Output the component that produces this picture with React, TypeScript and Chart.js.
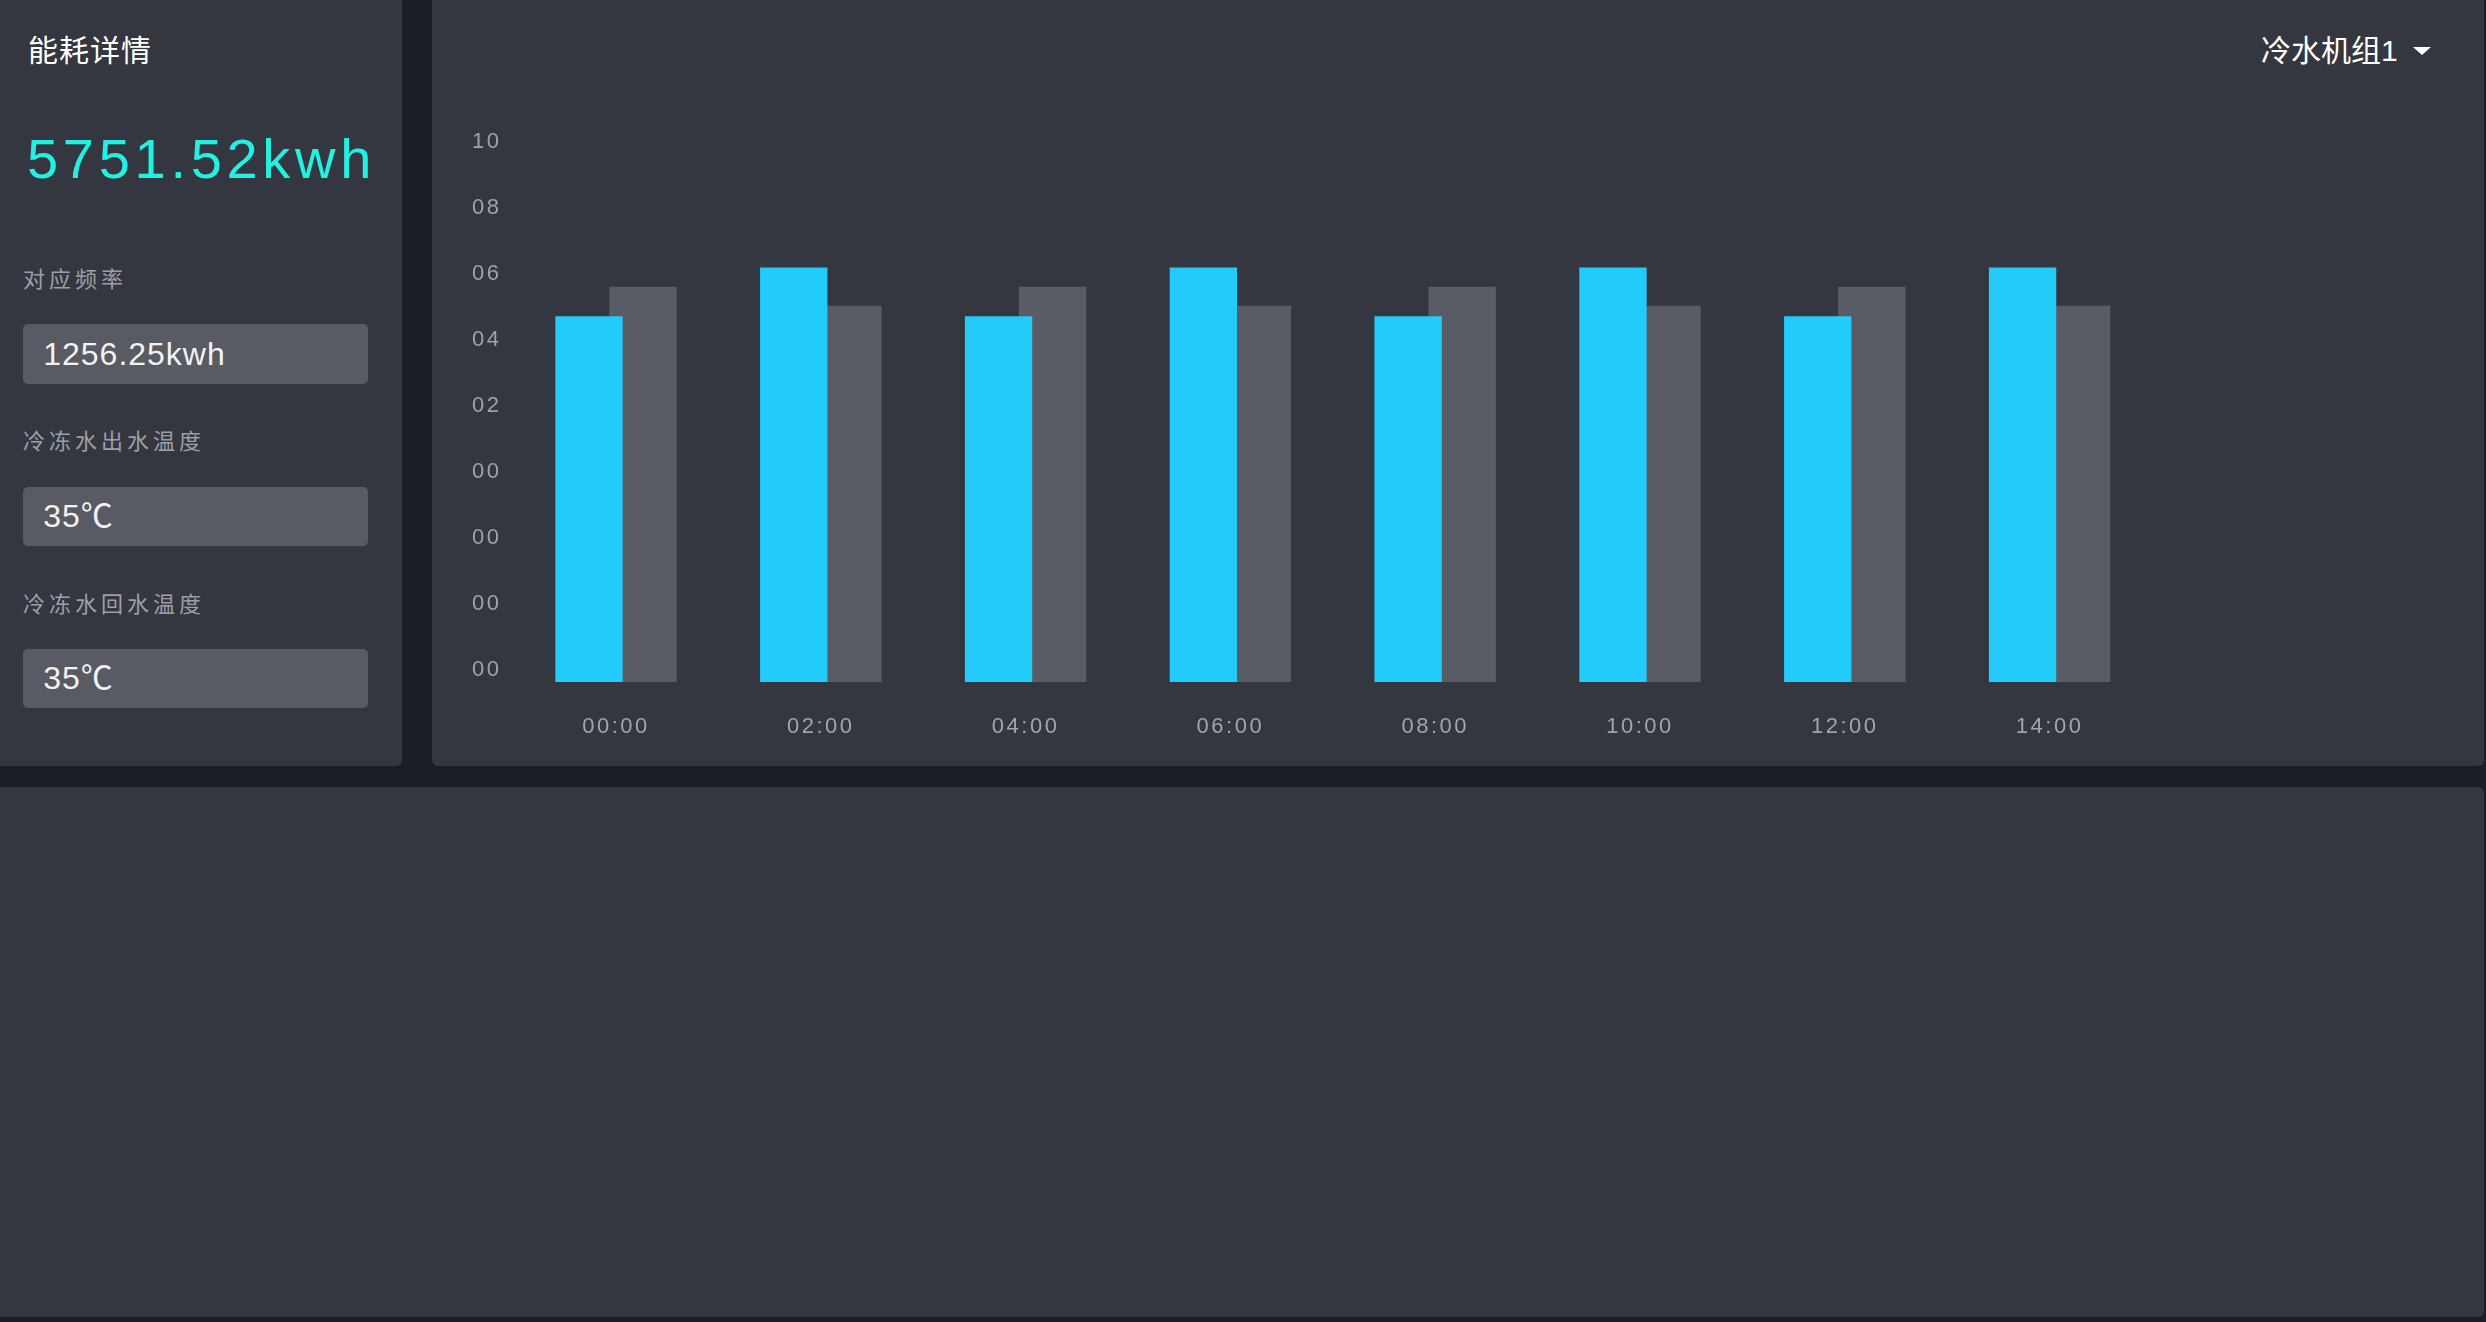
import React, { useEffect, useRef } from 'react';
import { Chart, registerables } from 'chart.js';

Chart.register(...registerables);

const categories = ['00:00', '02:00', '04:00', '06:00', '08:00', '10:00', '12:00', '14:00'];
const seriesBlue = [5.54, 6.28, 5.54, 6.28, 5.54, 6.28, 5.54, 6.28];
const seriesGray = [5.99, 5.7, 5.99, 5.7, 5.99, 5.7, 5.99, 5.7];
const yTickLabels = ['00', '00', '00', '00', '02', '04', '06', '08', '10'];

const infoLabels = ['对应频率', '冷冻水出水温度', '冷冻水回水温度'];
const infoValues = ['1256.25kwh', '35℃', '35℃'];

const FONT = "'Liberation Sans', 'Noto Sans CJK SC', sans-serif";
const PANEL = '#343740';
const BG = '#1b1e26';
const BOX = '#585b63';

const spacingPlugin = {
  id: 'letterSpacing',
  beforeUpdate(chart: any) {
    (chart.ctx as any).letterSpacing = '2.5px';
  },
  beforeDraw(chart: any) {
    (chart.ctx as any).letterSpacing = '2.5px';
  },
};

function BarChart() {
  const ref = useRef<HTMLCanvasElement | null>(null);
  useEffect(() => {
    if (!ref.current) return;
    const tickFont = { family: FONT, size: 22 };
    const chart = new Chart(ref.current, {
      type: 'bar',
      data: {
        labels: categories,
        datasets: [
          {
            data: seriesBlue,
            backgroundColor: '#22cbf9',
            borderWidth: 0,
            categoryPercentage: 0.528,
            barPercentage: 1.246,
          },
          {
            data: seriesGray,
            backgroundColor: '#595c64',
            borderWidth: 0,
            categoryPercentage: 0.528,
            barPercentage: 1.246,
          },
        ],
      },
      options: {
        responsive: false,
        animation: false,
        layout: { padding: { top: 54, right: 0, bottom: 0, left: 0 } },
        plugins: {
          legend: { display: false },
          tooltip: { enabled: false },
        },
        scales: {
          x: {
            grid: { display: false, drawTicks: false },
            border: { display: false },
            ticks: {
              color: '#a2a4aa',
              font: tickFont,
              padding: 31.5,
              maxRotation: 0,
              autoSkip: false,
            },
            afterFit: (s: any) => {
              s.height = 70;
            },
          },
          y: {
            min: 0,
            max: 8,
            grid: { display: false, drawTicks: false },
            border: { display: false },
            ticks: {
              stepSize: 1,
              color: '#9fa2a8',
              font: tickFont,
              padding: 0,
              crossAlign: 'far',
              labelOffset: -12.5,
              callback: (_v: any, i: number) => yTickLabels[i],
            },
            afterFit: (s: any) => {
              s.width = 41.6;
            },
          },
        },
      },
      plugins: [spacingPlugin],
    } as any);
    return () => chart.destroy();
  }, []);
  return (
    <canvas
      ref={ref}
      width={1680}
      height={652}
      style={{ position: 'absolute', left: 472, top: 100, width: 1680, height: 652 }}
    />
  );
}

export default function App() {
  const labelTops = [265, 427, 589.5];
  const boxTops = [324, 487, 649];
  const boxHeights = [60, 59, 59];
  return (
    <div
      style={{
        position: 'fixed',
        left: 0,
        top: 0,
        width: 2486,
        height: 1322,
        background: BG,
        overflow: 'hidden',
        fontFamily: FONT,
      }}
    >
      <div style={{ position: 'absolute', left: -10, top: -10, width: 412, height: 776, background: PANEL, borderRadius: 6 }} />
      <div style={{ position: 'absolute', left: 432, top: -10, width: 2052, height: 776, background: PANEL, borderRadius: 6 }} />
      <div style={{ position: 'absolute', left: -10, top: 787, width: 2494, height: 530, background: PANEL, borderRadius: 6 }} />

      <div style={{ position: 'absolute', left: 28, top: 33, fontSize: 30, lineHeight: '36px', color: '#ffffff', letterSpacing: '1px', whiteSpace: 'nowrap' }}>
        能耗详情
      </div>
      <div style={{ position: 'absolute', left: 27, top: 126.6, fontSize: 56, lineHeight: '64px', color: '#22f0e0', letterSpacing: '4.7px', whiteSpace: 'nowrap' }}>
        5751.52kwh
      </div>

      {infoLabels.map((t, i) => (
        <React.Fragment key={t}>
          <div style={{ position: 'absolute', left: 23, top: labelTops[i], fontSize: 22, lineHeight: '30px', color: '#9c9fa5', letterSpacing: '4px', whiteSpace: 'nowrap' }}>
            {t}
          </div>
          <div
            style={{
              position: 'absolute',
              left: 22.7,
              top: boxTops[i],
              width: 345.3,
              height: boxHeights[i],
              background: BOX,
              borderRadius: 5,
              boxSizing: 'border-box',
              paddingLeft: 20.5,
              fontSize: 32,
              lineHeight: boxHeights[i] + 'px',
              color: '#f2f2f2',
              letterSpacing: '1px',
              whiteSpace: 'nowrap',
            }}
          >
            {infoValues[i]}
          </div>
        </React.Fragment>
      ))}

      <div style={{ position: 'absolute', left: 2261, top: 33, fontSize: 30, lineHeight: '36px', color: '#ffffff', whiteSpace: 'nowrap' }}>
        冷水机组1
      </div>
      <div
        style={{
          position: 'absolute',
          left: 2413,
          top: 47,
          width: 0,
          height: 0,
          borderLeft: '9px solid transparent',
          borderRight: '9px solid transparent',
          borderTop: '8px solid #ffffff',
        }}
      />

      <BarChart />
    </div>
  );
}
